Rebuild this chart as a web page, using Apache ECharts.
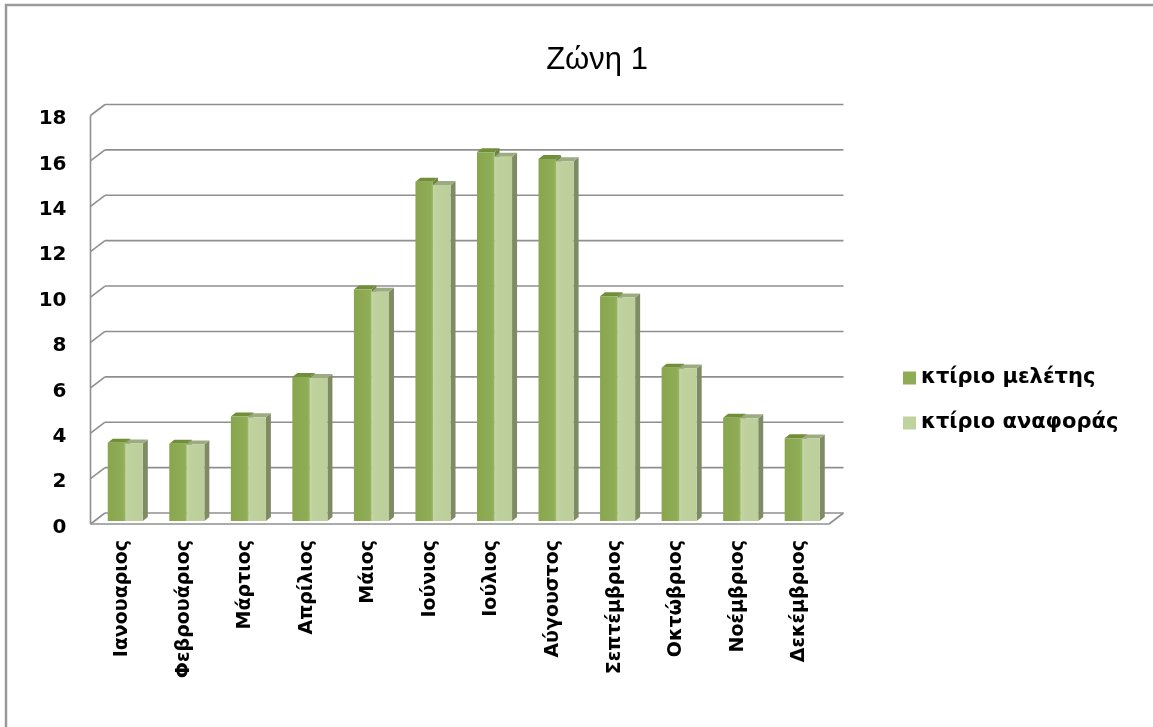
<!DOCTYPE html>
<html>
<head>
<meta charset="utf-8">
<title>Ζώνη 1</title>
<script src="https://cdn.jsdelivr.net/npm/echarts@6/dist/echarts.min.js"></script>
<style>
  html, body { margin: 0; padding: 0; background: #ffffff; }
  #chart { width: 1153px; height: 727px; }
</style>
</head>
<body>
<div id="chart"></div>
<script>
// Monthly values for zone 1: study building vs reference building
const MONTHS = ['Ιανουαριος', 'Φεβρουάριος', 'Μάρτιος', 'Απρίλιος', 'Μάιος', 'Ιούνιος',
                'Ιούλιος', 'Αύγουστος', 'Σεπτέμβριος', 'Οκτώβριος', 'Νοέμβριος', 'Δεκέμβριος'];
const STUDY = [3.45, 3.40, 4.60, 6.35, 10.20, 14.95, 16.25, 15.95, 9.90, 6.75, 4.55, 3.65];
const REFERENCE = [3.42, 3.37, 4.57, 6.30, 10.10, 14.80, 16.05, 15.85, 9.85, 6.72, 4.53, 3.64];
const Y_TICKS = [0, 2, 4, 6, 8, 10, 12, 14, 16, 18];
const SERIES_NAMES = ['κτίριο μελέτης', 'κτίριο αναφοράς'];

const FONT = 'DejaVu Sans';
const BAR_SHARE = 0.285;          // width of one bar as a share of the category band
const DEPTH = [5, -4];            // bar depth (side / top faces)
const BACK = [10.5, -8];          // offset of the back wall from the bar plane
const FRONT = [-4, 3];            // offset of the front edge from the bar plane
const GRID_COLOR = '#8f8f8f';

const PALETTE = [
  { front: new echarts.graphic.LinearGradient(0, 0, 1, 0, [
      { offset: 0, color: '#89a64f' }, { offset: 0.85, color: '#8fac56' }, { offset: 1, color: '#9ab963' }]),
    legend: '#8eab55', top: '#718e39', side: '#6c8142' },
  { front: new echarts.graphic.LinearGradient(0, 0, 1, 0, [
      { offset: 0, color: '#c6d8a6' }, { offset: 0.15, color: '#bfd19e' }, { offset: 1, color: '#bccf9a' }]),
    legend: '#c0d29e', top: '#9dab81', side: '#7f8b64' }
];

function barRenderer(slot) {
  const colors = PALETTE[slot];
  return function (params, api) {
    const cat = api.value(0);
    const base = api.coord([cat, 0]);
    const tip = api.coord([cat, api.value(1)]);
    const w = api.size([1, 0])[0] * BAR_SHARE;
    const x0 = base[0] - w + slot * w;
    const x1 = x0 + w;
    const yb = base[1], yt = tip[1];
    const [dx, dy] = DEPTH;
    return {
      type: 'group',
      children: [
        { type: 'polygon', shape: { points: [[x1, yt], [x1 + dx, yt + dy], [x1 + dx, yb + dy], [x1, yb]] },
          style: { fill: colors.side } },
        { type: 'polygon', shape: { points: [[x0, yt], [x1, yt], [x1 + dx, yt + dy], [x0 + dx, yt + dy]] },
          style: { fill: colors.top } },
        { type: 'rect', shape: { x: x0, y: yt, width: w, height: yb - yt },
          style: { fill: colors.front } }
      ]
    };
  };
}

// Back wall gridlines, their slanted ends, the left wall edge and the floor
function frameRenderer(params, api) {
  const v = api.value(0);
  const cs = params.coordSys;
  const L = cs.x, R = cs.x + cs.width;
  const y = api.coord([0, v])[1];
  const line = (a, b) => ({ type: 'line', shape: { x1: a[0], y1: a[1], x2: b[0], y2: b[1] },
                             style: { stroke: GRID_COLOR, lineWidth: 1.6 } });
  const children = [
    line([L + FRONT[0], y + FRONT[1]], [L + BACK[0], y + BACK[1]]),
    line([L + BACK[0], y + BACK[1]], [R + BACK[0], y + BACK[1]])
  ];
  if (v === Y_TICKS[0]) {
    const yTop = api.coord([0, Y_TICKS[Y_TICKS.length - 1]])[1];
    children.push(line([L + FRONT[0], yTop + FRONT[1]], [L + FRONT[0], y + FRONT[1]]));
    children.push(line([L + FRONT[0], y + FRONT[1]], [R + FRONT[0], y + FRONT[1]]));
    children.push(line([R + FRONT[0], y + FRONT[1]], [R + BACK[0], y + BACK[1]]));
  }
  return { type: 'group', children };
}

const chart = echarts.init(document.getElementById('chart'), null, { renderer: 'canvas' });

chart.setOption({
  animation: false,
  backgroundColor: '#ffffff',
  graphic: [{
    type: 'rect', z: -10, silent: true,
    shape: { x: 6, y: 5, width: 1200, height: 800 },
    style: { fill: 'transparent', stroke: '#9a9a9a', lineWidth: 2.5 }
  }],
  title: {
    text: 'Ζώνη 1',
    left: 592, top: 40, textAlign: 'center',
    textStyle: { fontFamily: 'Liberation Sans', fontSize: 31, fontWeight: 'normal', color: '#000000' }
  },
  legend: {
    orient: 'vertical',
    left: 903, top: 367, padding: 0,
    itemWidth: 13, itemHeight: 13, itemGap: 23,
    icon: 'rect',
    data: SERIES_NAMES.map((name, i) => ({ name, itemStyle: { color: PALETTE[i].legend } })),
    textStyle: { fontFamily: FONT, fontSize: 21, fontWeight: 'bold', color: '#000000', lineHeight: 22 }
  },
  grid: { left: 94.5, right: 320, top: 112.5, bottom: 206, containLabel: false },
  xAxis: {
    type: 'category',
    data: MONTHS,
    axisLine: { show: false },
    axisTick: { show: false },
    splitLine: { show: false },
    axisLabel: {
      rotate: 90, interval: 0, margin: 19,
      fontFamily: FONT, fontSize: 19, fontWeight: 'bold', color: '#000000',
      verticalAlign: 'bottom', lineHeight: 6
    }
  },
  yAxis: {
    type: 'value',
    min: 0, max: 18, interval: 2,
    axisLine: { show: false },
    axisTick: { show: false },
    splitLine: { show: false },
    axisLabel: {
      margin: 28,
      fontFamily: FONT, fontSize: 20, fontWeight: 'bold', color: '#000000',
      verticalAlign: 'top', lineHeight: 13
    }
  },
  series: [
    {
      type: 'custom', name: 'frame', z: 1, silent: true, clip: false,
      renderItem: frameRenderer,
      data: Y_TICKS.map(v => [v])
    },
    {
      type: 'custom', name: SERIES_NAMES[0], z: 2, clip: false,
      itemStyle: { color: PALETTE[0].legend },
      renderItem: barRenderer(0),
      encode: { x: 0, y: 1 },
      data: STUDY.map((v, i) => [i, v])
    },
    {
      type: 'custom', name: SERIES_NAMES[1], z: 3, clip: false,
      itemStyle: { color: PALETTE[1].legend },
      renderItem: barRenderer(1),
      encode: { x: 0, y: 1 },
      data: REFERENCE.map((v, i) => [i, v])
    }
  ]
});
</script>
</body>
</html>
